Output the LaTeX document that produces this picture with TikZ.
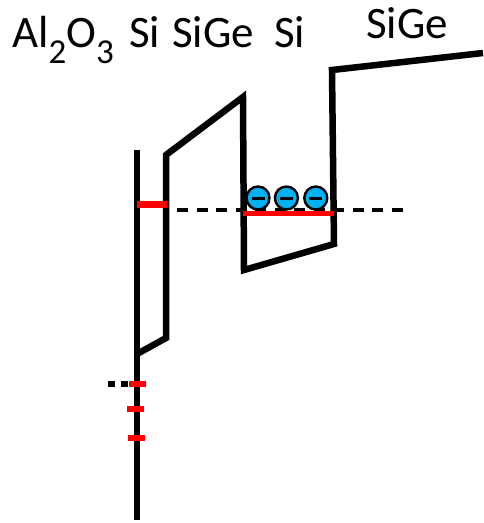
\documentclass[tikz,border=0pt]{standalone}
\usepackage{fontspec}
\setmainfont{Carlito}
\usetikzlibrary{positioning}
\definecolor{dred}{HTML}{FF0000}
\definecolor{dcyan}{HTML}{00B0F0}
\tikzset{
  dband/.style={black, line width=6.5pt, line join=miter},
  dfermi/.style={black, line width=4pt, dash pattern=on 11pt off 8.5pt},
  dtrap/.style={dred, line width=6pt},
  dlevel/.style={dred, line width=5pt},
  delec/.style={circle, draw=black, fill=dcyan, line width=2.4pt,
                minimum size=23pt, inner sep=0pt},
  dlayer/.style={font=\fontsize{45}{50}\selectfont, inner sep=0pt, anchor=base west},
}
\newcommand{\lowsub}[1]{\raisebox{-16pt}{\fontsize{35}{35}\selectfont #1}}

\begin{document}
\begin{tikzpicture}[x=1pt,y=-1pt]
  \useasboundingbox (0,0) rectangle (483,523);

  % camadas
  \node[dlayer] (al) at (12,47) {Al\lowsub{2}O\lowsub{3}};
  \node[dlayer] (si1) at (129,47) {Si};
  \node[dlayer] (sige1) at (172,47) {SiGe};
  \node[dlayer] (si2) at (274,47) {Si};
  \node[dlayer] (sige2) at (366,38) {SiGe};

  % bordas de banda
  \coordinate (oxtop) at (137,150);
  \coordinate (oxbot) at (137,520);
  \draw[dband] (oxtop) -- (oxbot);
  \draw[dband] (137,354) -- (166,338) -- (166,155) -- (243,97) -- (244,270)
               -- (334,244) -- (332,70) -- (483,53);

  % nivel de Fermi
  \coordinate (fl) at (177,210);
  \coordinate (fr) at (411,210);
  \draw[dfermi] (fl) -- (fr);
  \coordinate (dl) at (108,384);
  \coordinate (dr) at (128,384);
  \draw[black, line width=6pt, dash pattern=on 7pt off 6pt] (dl) -- (dr);

  % estados de interface
  \draw[dtrap, line width=7pt] (137,204) -- (167,204);
  \foreach \y/\a/\b in {384/129/146, 409/127/144, 438/128/145}
    \draw[dtrap] (\a,\y) -- (\b,\y);

  % subbanda e eletrons
  \coordinate (ql) at (243,213);
  \coordinate (qr) at (334,213);
  \draw[dlevel] (ql) -- (qr);
  \node[delec] (e1) at (258,198) {\rule{13pt}{3pt}};
  \node[delec, right=3pt of e1] (e2) {\rule{13pt}{3pt}};
  \node[delec, right=4pt of e2] (e3) {\rule{13pt}{3pt}};
\end{tikzpicture}
\end{document}
